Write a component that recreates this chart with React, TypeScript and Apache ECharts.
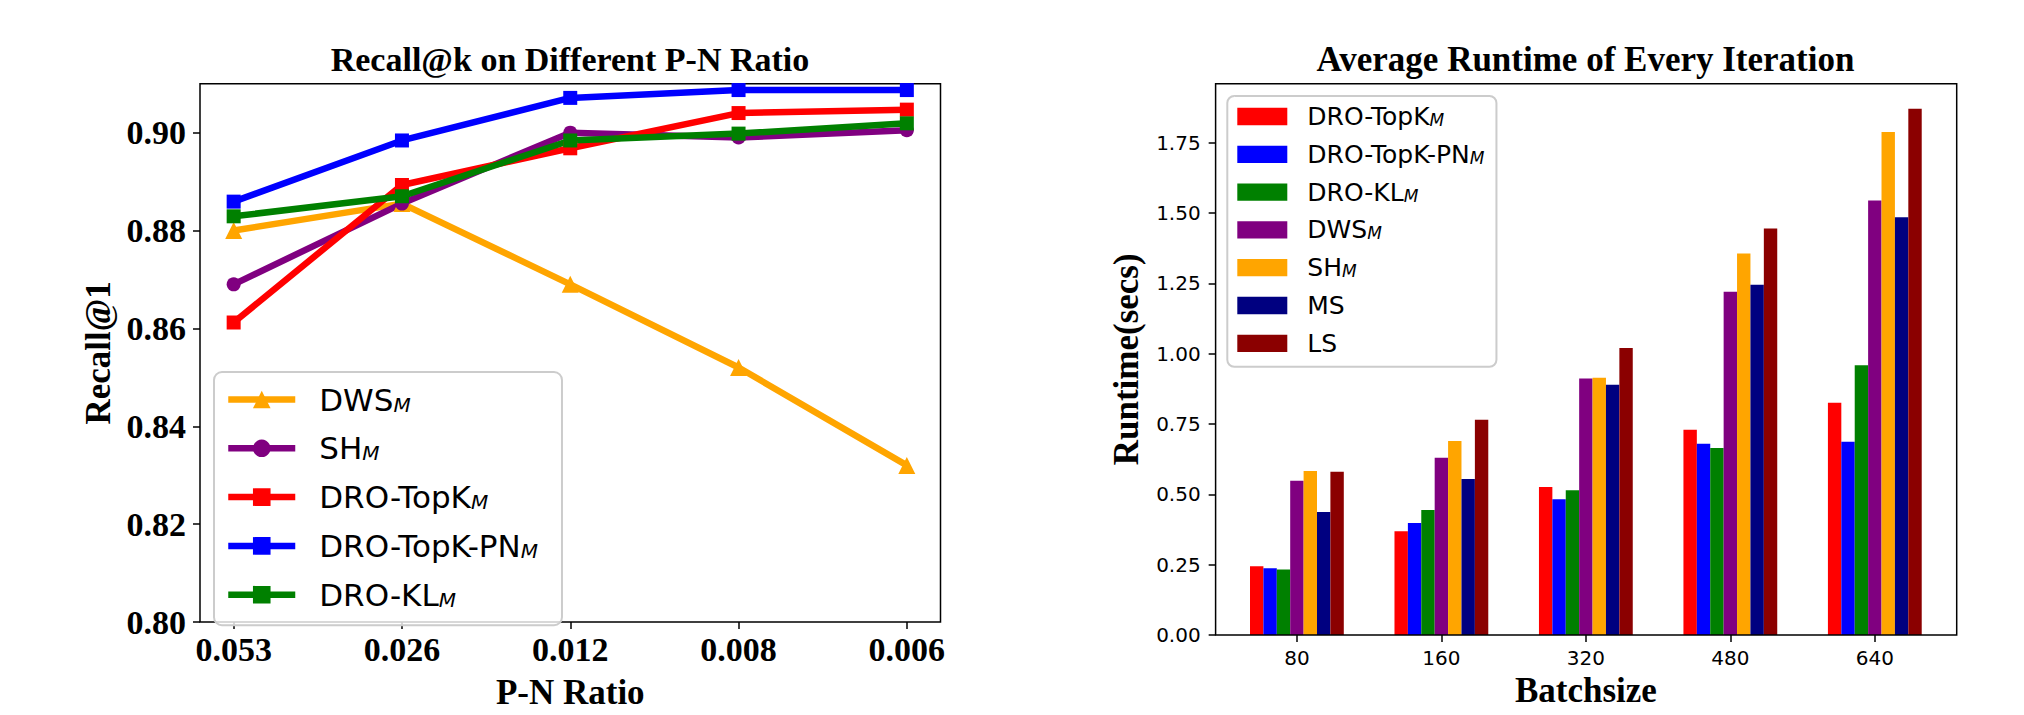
import React, { useEffect, useRef } from 'react';
import * as echarts from 'echarts';

// ---------- Left chart data ----------
const pnRatios = ['0.053', '0.026', '0.012', '0.008', '0.006'];
const recallTicks = [0.8, 0.82, 0.84, 0.86, 0.88, 0.9];
const dwsRecall = [0.88, 0.8855, 0.869, 0.852, 0.832];
const shRecall = [0.869, 0.8855, 0.9, 0.899, 0.9005];
const topkRecall = [0.8612, 0.8893, 0.8968, 0.904, 0.9047];
const topkPnRecall = [0.8859, 0.8984, 0.9071, 0.9087, 0.9087];
const klRecall = [0.8829, 0.887, 0.8984, 0.8998, 0.9019];

// ---------- Right chart data ----------
const batchSizes = ['80', '160', '320', '480', '640'];
const runtimeTicks = [0, 0.25, 0.5, 0.75, 1.0, 1.25, 1.5, 1.75];
const topkRuntime = [0.244, 0.369, 0.526, 0.73, 0.826];
const topkPnRuntime = [0.237, 0.398, 0.483, 0.68, 0.687];
const klRuntime = [0.233, 0.444, 0.515, 0.665, 0.959];
const dwsRuntime = [0.548, 0.63, 0.912, 1.22, 1.545];
const shRuntime = [0.583, 0.69, 0.915, 1.356, 1.788];
const msRuntime = [0.437, 0.555, 0.89, 1.245, 1.485];
const lsRuntime = [0.58, 0.765, 1.02, 1.445, 1.871];

const subscripted = ['DWS', 'SH', 'DRO-TopK', 'DRO-TopK-PN', 'DRO-KL'];

const SERIF = "'Liberation Serif', 'Times New Roman', serif";
const SANS = "'DejaVu Sans', sans-serif";

function legendFormatter(name: string) {
  return subscripted.includes(name) ? `${name}{s|M}` : name;
}

function leftOption(): any {
  const lineSeries = (name: string, data: number[], color: string, symbol: string, size: number) => ({
    type: 'line',
    name,
    data: data.map((v, i) => [i, v]),
    symbol,
    symbolSize: size,
    lineStyle: { width: 6.5, color },
    itemStyle: { color },
    clip: false,
  });
  return {
    animation: false,
    backgroundColor: '#fff',
    graphic: [
      {
        type: 'text',
        x: 570,
        y: 59,
        style: {
          text: 'Recall@k on Different P-N Ratio',
          align: 'center',
          verticalAlign: 'middle',
          fontFamily: SERIF,
          fontWeight: 'bold',
          fontSize: 34,
          fill: '#000',
        },
      },
    ],
    grid: {
      left: 200,
      top: 83.7,
      width: 740.5,
      height: 551.3,
      show: true,
      borderColor: '#000',
      borderWidth: 1.5,
      backgroundColor: 'transparent',
    },
    xAxis: {
      type: 'value',
      min: -0.2,
      max: 4.2,
      name: 'P-N Ratio',
      nameLocation: 'middle',
      nameGap: 53,
      nameTextStyle: { fontFamily: SERIF, fontWeight: 'bold', fontSize: 35, color: '#000' },
      axisLine: { show: false, onZero: false },
      axisTick: { show: true, length: 7, customValues: [0, 1, 2, 3, 4], lineStyle: { color: '#000', width: 1.5 } },
      axisLabel: {
        customValues: [0, 1, 2, 3, 4],
        formatter: (v: number) => pnRatios[Math.round(v)],
        fontFamily: SERIF,
        fontWeight: 'bold',
        fontSize: 34,
        color: '#000',
        margin: 10,
      },
      splitLine: { show: false },
    },
    yAxis: {
      type: 'value',
      min: 0.8,
      max: 0.91,
      name: 'Recall@1',
      nameLocation: 'middle',
      nameGap: 83,
      nameTextStyle: { fontFamily: SERIF, fontWeight: 'bold', fontSize: 35, color: '#000' },
      axisLine: { show: false, onZero: false },
      axisTick: { show: true, length: 7, customValues: recallTicks, lineStyle: { color: '#000', width: 1.5 } },
      axisLabel: {
        customValues: recallTicks,
        formatter: (v: number) => v.toFixed(2),
        fontFamily: SERIF,
        fontWeight: 'bold',
        fontSize: 34,
        color: '#000',
        margin: 14,
      },
      splitLine: { show: false },
    },
    legend: {
      orient: 'vertical',
      left: 214,
      top: 372,
      padding: [12, 24, 15, 11],
      itemGap: 17.8,
      itemWidth: 67,
      itemHeight: 22,
      backgroundColor: 'rgba(255,255,255,0.8)',
      borderColor: '#cccccc',
      borderWidth: 2,
      borderRadius: 8,
      lineStyle: { width: 6.5 },
      formatter: legendFormatter,
      textStyle: {
        fontFamily: SANS,
        fontSize: 31,
        lineHeight: 30,
        color: '#000',
        padding: [0, 0, 0, 19],
        rich: {
          s: { fontFamily: SANS, fontSize: 20, fontStyle: 'italic', lineHeight: 13, verticalAlign: 'bottom', color: '#000' },
        },
      },
      data: ['DWS', 'SH', 'DRO-TopK', 'DRO-TopK-PN', 'DRO-KL'],
    },
    series: [
      lineSeries('DWS', dwsRecall, '#FFA500', 'triangle', 17),
      lineSeries('SH', shRecall, '#800080', 'circle', 14),
      lineSeries('DRO-TopK', topkRecall, '#FF0000', 'rect', 14),
      lineSeries('DRO-TopK-PN', topkPnRecall, '#0000FF', 'rect', 14),
      lineSeries('DRO-KL', klRecall, '#008000', 'rect', 14),
    ],
  };
}

function rightOption(): any {
  const barSeries = (name: string, data: number[], color: string) => ({
    type: 'bar',
    name,
    data,
    barWidth: 13.4,
    barGap: '0%',
    itemStyle: { color },
  });
  return {
    animation: false,
    backgroundColor: '#fff',
    graphic: [
      {
        type: 'text',
        x: 573.5,
        y: 59,
        style: {
          text: 'Average Runtime of Every Iteration',
          align: 'center',
          verticalAlign: 'middle',
          fontFamily: SERIF,
          fontWeight: 'bold',
          fontSize: 35,
          fill: '#000',
        },
      },
      {
        type: 'rect',
        shape: { x: 203.6, y: 83.7, width: 741.1, height: 551.3 },
        style: { fill: 'none', stroke: '#000', lineWidth: 1.5 },
        z: 100,
      },
    ],
    grid: {
      left: 212.66,
      top: 83.7,
      width: 722.4,
      height: 551.3,
    },
    xAxis: {
      type: 'category',
      data: batchSizes,
      name: 'Batchsize',
      nameLocation: 'middle',
      nameGap: 34,
      nameTextStyle: { fontFamily: SERIF, fontWeight: 'bold', fontSize: 35, color: '#000' },
      axisLine: { show: false, onZero: false },
      axisTick: { show: true, alignWithLabel: true, length: 7, lineStyle: { color: '#000', width: 1.5 } },
      axisLabel: { fontFamily: SANS, fontSize: 20, color: '#000', margin: 13 },
      splitLine: { show: false },
    },
    yAxis: {
      type: 'value',
      min: 0,
      max: 1.96,
      offset: 9,
      name: 'Runtime(secs)',
      nameLocation: 'middle',
      nameGap: 72,
      nameTextStyle: { fontFamily: SERIF, fontWeight: 'bold', fontSize: 35, color: '#000' },
      axisLine: { show: false, onZero: false },
      axisTick: { show: true, length: 7, customValues: runtimeTicks, lineStyle: { color: '#000', width: 1.5 } },
      axisLabel: {
        customValues: runtimeTicks,
        formatter: (v: number) => v.toFixed(2),
        fontFamily: SANS,
        fontSize: 20,
        color: '#000',
        margin: 15,
      },
      splitLine: { show: false },
    },
    legend: {
      orient: 'vertical',
      left: 215.3,
      top: 96,
      padding: [8, 12, 11, 10],
      itemGap: 12.8,
      itemWidth: 50,
      itemHeight: 17.3,
      icon: 'rect',
      backgroundColor: 'rgba(255,255,255,0.8)',
      borderColor: '#cccccc',
      borderWidth: 2,
      borderRadius: 7,
      formatter: legendFormatter,
      textStyle: {
        fontFamily: SANS,
        fontSize: 25,
        lineHeight: 24,
        color: '#000',
        padding: [0, 0, 0, 15],
        rich: {
          s: { fontFamily: SANS, fontSize: 17, fontStyle: 'italic', lineHeight: 10, verticalAlign: 'bottom', color: '#000' },
        },
      },
      data: ['DRO-TopK', 'DRO-TopK-PN', 'DRO-KL', 'DWS', 'SH', 'MS', 'LS'],
    },
    series: [
      barSeries('DRO-TopK', topkRuntime, '#FF0000'),
      barSeries('DRO-TopK-PN', topkPnRuntime, '#0000FF'),
      barSeries('DRO-KL', klRuntime, '#008000'),
      barSeries('DWS', dwsRuntime, '#800080'),
      barSeries('SH', shRuntime, '#FFA500'),
      barSeries('MS', msRuntime, '#000080'),
      barSeries('LS', lsRuntime, '#8B0000'),
    ],
  };
}

export default function App() {
  const leftRef = useRef<HTMLDivElement>(null);
  const rightRef = useRef<HTMLDivElement>(null);
  useEffect(() => {
    const l = echarts.init(leftRef.current!, null, { renderer: 'svg' });
    const r = echarts.init(rightRef.current!, null, { renderer: 'svg' });
    l.setOption(leftOption());
    r.setOption(rightOption());
    return () => {
      l.dispose();
      r.dispose();
    };
  }, []);
  return (
    <div style={{ position: 'fixed', left: 0, top: 0, width: 2024, height: 715, background: '#fff' }}>
      <div ref={leftRef} style={{ position: 'absolute', left: 0, top: 0, width: 1012, height: 715 }} />
      <div ref={rightRef} style={{ position: 'absolute', left: 1012, top: 0, width: 1012, height: 715 }} />
    </div>
  );
}
